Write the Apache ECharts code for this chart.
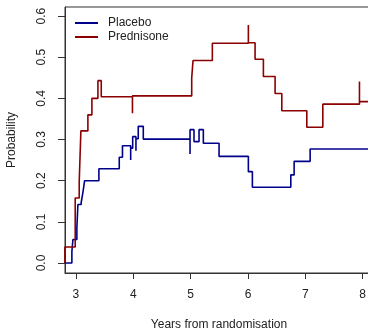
<!DOCTYPE html>
<html>
<head>
<meta charset="utf-8">
<script src="https://cdn.jsdelivr.net/npm/echarts@6/dist/echarts.min.js"></script>
<style>html,body{margin:0;padding:0;background:#fff}#c{width:368px;height:330px}</style>
</head>
<body>
<div id="c"></div>
<script>
var seriesNames = ["Placebo", "Prednisone"];
var placeboTime = [2.808, 2.930, 2.948, 3.017, 3.035, 3.092, 3.122, 3.152, 3.401, 3.756, 3.812, 3.955, 3.955, 3.990, 4.047, 4.047, 4.087, 4.175, 4.990, 4.990, 5.059, 5.147, 5.222, 5.496, 6.007, 6.077, 6.747, 6.805, 7.084, 8.25];
var placeboProb = [0.000, 0.028, 0.057, 0.085, 0.142, 0.147, 0.171, 0.200, 0.229, 0.257, 0.285, 0.250, 0.279, 0.307, 0.273, 0.302, 0.332, 0.301, 0.265, 0.324, 0.295, 0.324, 0.291, 0.259, 0.222, 0.184, 0.214, 0.247, 0.277, 0.277];
var predTime = [2.808, 2.808, 2.988, 3.058, 3.087, 3.209, 3.279, 3.384, 3.442, 3.986, 3.986, 5.019, 5.042, 5.379, 6.007, 6.007, 6.124, 6.269, 6.473, 6.590, 7.026, 7.305, 7.944, 7.944, 8.25];
var predProb = [0.000, 0.039, 0.158, 0.198, 0.321, 0.360, 0.400, 0.443, 0.404, 0.364, 0.406, 0.449, 0.492, 0.534, 0.578, 0.535, 0.495, 0.453, 0.412, 0.370, 0.330, 0.386, 0.441, 0.392, 0.392];
var xTicks = [3, 4, 5, 6, 7, 8];
var yTicks = [0, 0.1, 0.2, 0.3, 0.4, 0.5, 0.6];
var colors = ["#00008B", "#8B0000"];

function zip(t, p) { return t.map(function (v, i) { return [v, p[i]]; }); }

var chart = echarts.init(document.getElementById('c'), null, {renderer: 'canvas'});
var txt = '#222';
var ff = 'Liberation Sans, Arial, sans-serif';
chart.setOption({
  animation: false,
  backgroundColor: '#fff',
  grid: {left: 65, top: 7, width: 308, height: 266, show: true, borderColor: '#333', borderWidth: 1,
         containLabel: false, outerBoundsMode: 'none'},
  legend: {
    orient: 'vertical', left: 75, top: 17, padding: 0, itemWidth: 23, itemHeight: 2, itemGap: 2,
    icon: 'rect',
    data: seriesNames,
    textStyle: {fontFamily: ff, fontSize: 12, color: txt, padding: [0, 0, 0, 5]}
  },
  xAxis: {
    type: 'value', min: 2.81, max: 8.18,
    name: 'Years from randomisation', nameLocation: 'middle', nameGap: 46,
    nameTextStyle: {fontFamily: ff, fontSize: 12, color: txt},
    axisLine: {show: true, onZero: false, lineStyle: {color: '#333', width: 1}},
    axisTick: {show: true, length: 6, customValues: xTicks, lineStyle: {color: '#333'}},
    axisLabel: {customValues: xTicks, margin: 16, fontFamily: ff, fontSize: 12, color: txt},
    splitLine: {show: false}
  },
  yAxis: {
    type: 'value', min: -0.0243, max: 0.622,
    name: 'Probability', nameLocation: 'middle', nameGap: 47,
    nameTextStyle: {fontFamily: ff, fontSize: 12, color: txt},
    axisLine: {show: true, onZero: false, lineStyle: {color: '#333', width: 1}},
    axisTick: {show: true, length: 7, customValues: yTicks, lineStyle: {color: '#333'}},
    axisLabel: {customValues: yTicks, rotate: 90, margin: 17, fontFamily: ff, fontSize: 12, color: txt,
      formatter: function (v) { return v.toFixed(1); }},
    splitLine: {show: false}
  },
  series: [
    {name: seriesNames[0], type: 'line', step: 'end', symbol: 'none', showSymbol: false,
     data: zip(placeboTime, placeboProb), lineStyle: {color: colors[0], width: 1.6}, itemStyle: {color: colors[0]}},
    {name: seriesNames[1], type: 'line', step: 'end', symbol: 'none', showSymbol: false,
     data: zip(predTime, predProb), lineStyle: {color: colors[1], width: 1.6}, itemStyle: {color: colors[1]}}
  ]
});
</script>
</body>
</html>
